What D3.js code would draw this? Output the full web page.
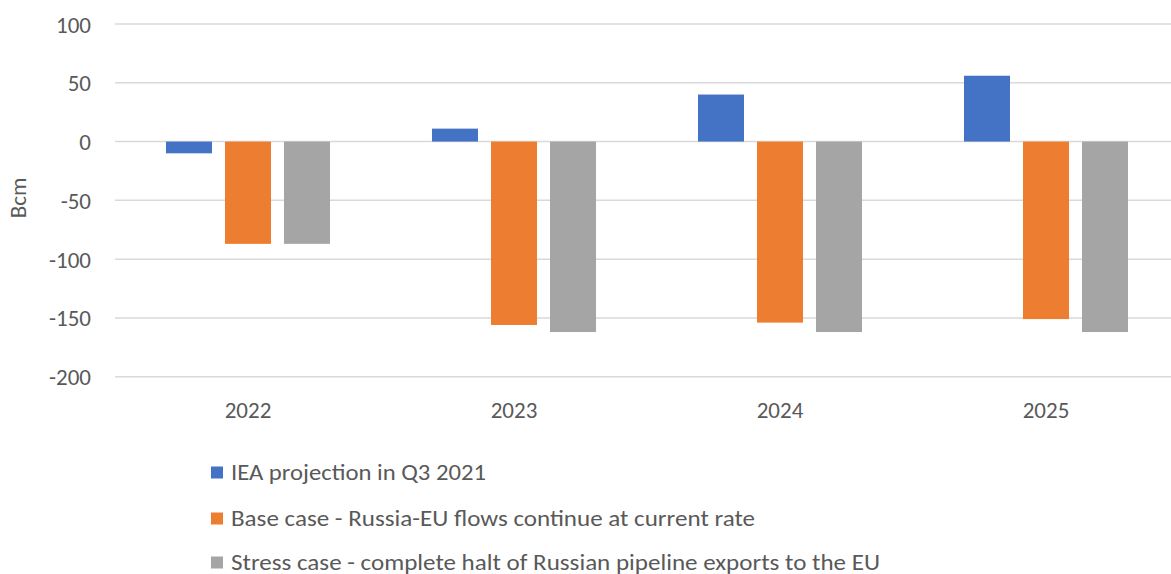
<!DOCTYPE html>
<html><head><meta charset="utf-8">
<script src="https://cdn.jsdelivr.net/npm/d3@7"></script>
<style>body{margin:0;background:#fff}svg{display:block}</style>
</head><body>
<svg id="c" width="1171" height="574"></svg>
<script>
const categories = ["2022", "2023", "2024", "2025"];
const seriesNames = [
  "IEA projection in Q3 2021",
  "Base case - Russia-EU flows continue at current rate",
  "Stress case - complete halt of Russian pipeline exports to the EU"
];
const ieaValues = [-10, 11, 40, 56];
const baseValues = [-87, -156, -154, -151];
const stressValues = [-87, -162, -162, -162];
const seriesColors = ["#4472C4", "#ED7D31", "#A5A5A5"];
const yTicks = [100, 50, 0, -50, -100, -150, -200];
const yLabel = "Bcm";

const series = [ieaValues, baseValues, stressValues];
const svg = d3.select("#c");
const font = "Calibri, Carlito, 'Open Sans', sans-serif";
const textColor = "#595959";

const y = d3.scaleLinear().domain([-200, 100]).range([376.7, 24]);
const x0 = d3.scaleBand().domain(categories).range([115, 1179]).paddingInner(0).paddingOuter(0);
const x1 = d3.scaleBand().domain(d3.range(series.length)).range([0, x0.bandwidth()])
  .paddingInner(0.2203).paddingOuter(0.864);

// gridlines
svg.append("g").selectAll("line").data(yTicks).join("line")
  .attr("x1", 115).attr("x2", 1171)
  .attr("y1", d => y(d)).attr("y2", d => y(d))
  .attr("stroke", "#d9d9d9").attr("stroke-width", 1.5);

// y axis labels
const yAxis = d3.axisLeft(y).tickValues(yTicks).tickSize(0).tickPadding(0).tickFormat(d => String(d));
const ya = svg.append("g").attr("transform", "translate(91,0)").call(yAxis);
ya.select(".domain").remove();
ya.selectAll("text").attr("font-family", font).attr("font-size", 23).attr("fill", textColor).attr("dy", "0.35em");

// bars
series.forEach((vals, si) => {
  svg.append("g").selectAll("rect").data(vals).join("rect")
    .attr("x", (d, i) => x0(categories[i]) + x1(si))
    .attr("width", x1.bandwidth())
    .attr("y", d => Math.min(y(d), y(0)))
    .attr("height", d => Math.abs(y(d) - y(0)))
    .attr("fill", seriesColors[si]);
});

// x axis labels
const xAxis = d3.axisBottom(x0).tickSize(0).tickPadding(0);
const xa = svg.append("g").attr("transform", "translate(0,409.5)").call(xAxis);
xa.select(".domain").remove();
xa.selectAll("text").attr("font-family", font).attr("font-size", 23).attr("fill", textColor).attr("dy", "0.35em");

// y title
svg.append("text").attr("transform", "translate(18,198) rotate(-90)")
  .attr("text-anchor", "middle").attr("dy", "0.35em").attr("font-family", font).attr("font-size", 23)
  .attr("fill", textColor).text(yLabel);

// legend
const legendY = [472.5, 518.5, 562.5];
const legendW = [255, 524, 649];
const lg = svg.append("g").selectAll("g").data(seriesNames).join("g")
  .attr("transform", (d, i) => `translate(211,${legendY[i]})`);
lg.append("rect").attr("x", 0).attr("y", -6).attr("width", 12).attr("height", 12)
  .attr("fill", (d, i) => seriesColors[i]);
lg.append("text").attr("x", 20).attr("dy", "0.35em").attr("font-family", font)
  .attr("font-size", 22).attr("fill", textColor)
  .attr("textLength", (d, i) => legendW[i]).attr("lengthAdjust", "spacingAndGlyphs")
  .text(d => d);
</script>
</body></html>
